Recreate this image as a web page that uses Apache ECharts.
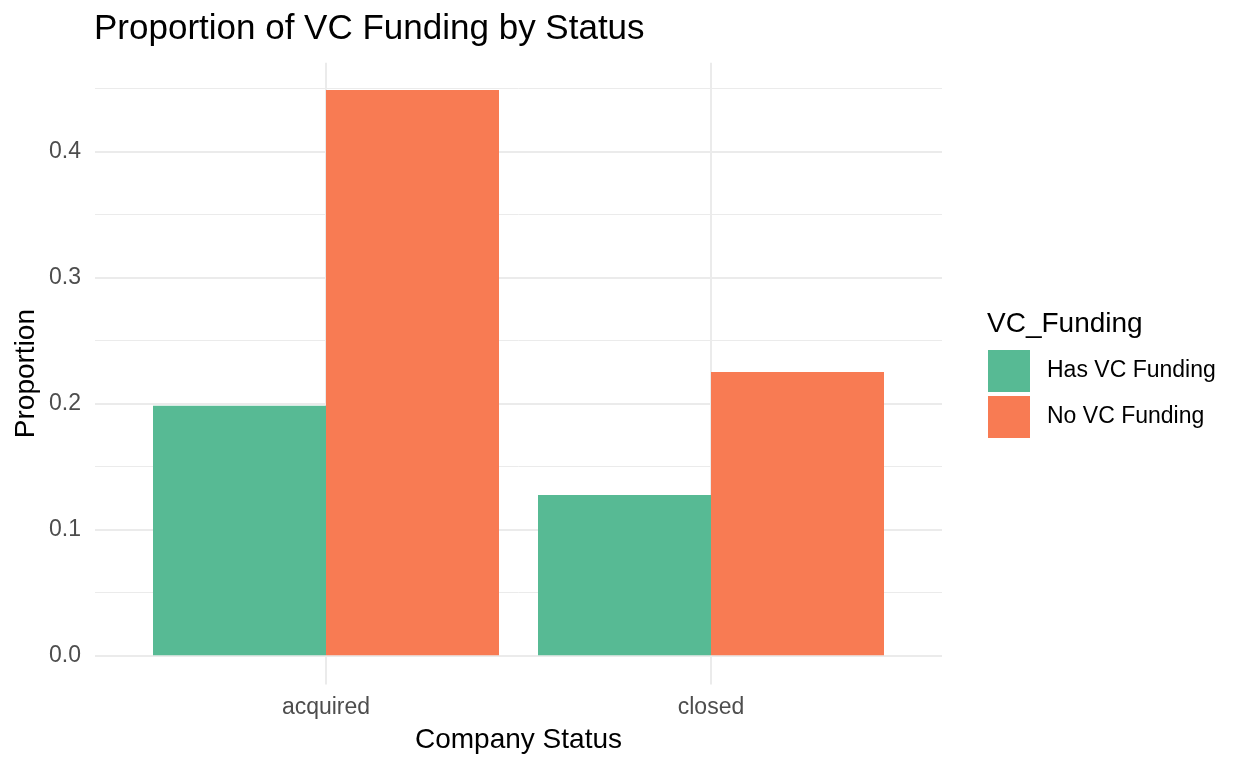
<!DOCTYPE html>
<html>
<head>
<meta charset="utf-8">
<script src="https://cdn.jsdelivr.net/npm/echarts@6/dist/echarts.min.js"></script>
<style>
html,body{margin:0;padding:0;background:#fff;}
#chart{width:1248px;height:768px;}
</style>
</head>
<body>
<div id="chart"></div>
<script>
const categories = ['acquired', 'closed'];
const seriesNames = ['Has VC Funding', 'No VC Funding'];
const hasVC = [0.1980, 0.1273];
const noVC = [0.4486, 0.2249];
const categoryPositions = [1, 2];

const FONT = '"Liberation Sans", Arial, sans-serif';
const chart = echarts.init(document.getElementById('chart'), null, {renderer: 'canvas'});

const option = {
  animation: false,
  backgroundColor: '#ffffff',
  textStyle: {fontFamily: FONT},
  title: [
    {text: 'Proportion of VC Funding by Status', left: 94, top: 12, padding: 0,
     textStyle: {fontFamily: FONT, fontSize: 35, fontWeight: 'normal', color: '#000'}},
    {text: 'VC_Funding', left: 987, top: 310, padding: 0,
     textStyle: {fontFamily: FONT, fontSize: 28, fontWeight: 'normal', color: '#000'}}
  ],
  legend: {
    data: seriesNames,
    orient: 'vertical',
    left: 988, top: 350, padding: 0,
    icon: 'rect', itemWidth: 42, itemHeight: 42, itemGap: 4,
    selectedMode: false,
    textStyle: {fontFamily: FONT, fontSize: 23, color: '#000', padding: [0, 0, 0, 12]}
  },
  grid: [
    {left: 95, width: 847, top: 62.7, height: 592.6, containLabel: false},
    {left: 95, width: 847, top: 62.7, height: 621.8, containLabel: false}
  ],
  xAxis: [
    {type: 'value', gridIndex: 0, min: 0.4, max: 2.6, show: false},
    {type: 'value', gridIndex: 1, min: 0.4, max: 2.6,
     name: 'Company Status', nameLocation: 'middle', nameGap: 42,
     nameTextStyle: {fontFamily: FONT, fontSize: 28, color: '#000'},
     axisLine: {show: false},
     axisTick: {show: false, customValues: categoryPositions},
     axisLabel: {customValues: categoryPositions, margin: 12, fontSize: 23, color: '#4D4D4D', fontFamily: FONT,
                 formatter: v => categories[Math.round(v) - 1] || ''},
     splitLine: {show: true, lineStyle: {color: '#EBEBEB', width: 2}}
    }
  ],
  yAxis: [
    {type: 'value', gridIndex: 0, min: 0, max: 0.4703, interval: 0.1,
     axisLine: {show: false}, axisTick: {show: false},
     axisLabel: {margin: 14, fontSize: 23, color: '#4D4D4D', fontFamily: FONT, showMaxLabel: false,
                 formatter: v => (Math.abs(v % 0.1) < 1e-9 || Math.abs(v % 0.1 - 0.1) < 1e-9) ? v.toFixed(1) : ''},
     splitLine: {show: true, showMaxLine: false, lineStyle: {color: '#EBEBEB', width: 2}}
    },
    {type: 'value', gridIndex: 0, min: 0, max: 0.4703, interval: 0.05,
     axisLine: {show: false}, axisTick: {show: false}, axisLabel: {show: false},
     splitLine: {show: true, showMaxLine: false, lineStyle: {color: '#EBEBEB', width: 1}}
    },
    {type: 'value', gridIndex: 1, min: 0, max: 1,
     name: 'Proportion', nameLocation: 'middle', nameGap: 55, nameRotate: 90,
     nameTextStyle: {fontFamily: FONT, fontSize: 28, color: '#000'},
     axisLine: {show: false}, axisTick: {show: false}, axisLabel: {show: false},
     splitLine: {show: false}
    }
  ],
  series: [
    {name: seriesNames[0], type: 'bar', xAxisIndex: 0, yAxisIndex: 0,
     barWidth: 173, barGap: '0%',
     itemStyle: {color: '#57BA94'},
     data: categoryPositions.map((x, i) => [x, hasVC[i]])},
    {name: seriesNames[1], type: 'bar', xAxisIndex: 0, yAxisIndex: 0,
     barWidth: 173, barGap: '0%',
     itemStyle: {color: '#F87B53'},
     data: categoryPositions.map((x, i) => [x, noVC[i]])}
  ]
};
chart.setOption(option);
</script>
</body>
</html>
